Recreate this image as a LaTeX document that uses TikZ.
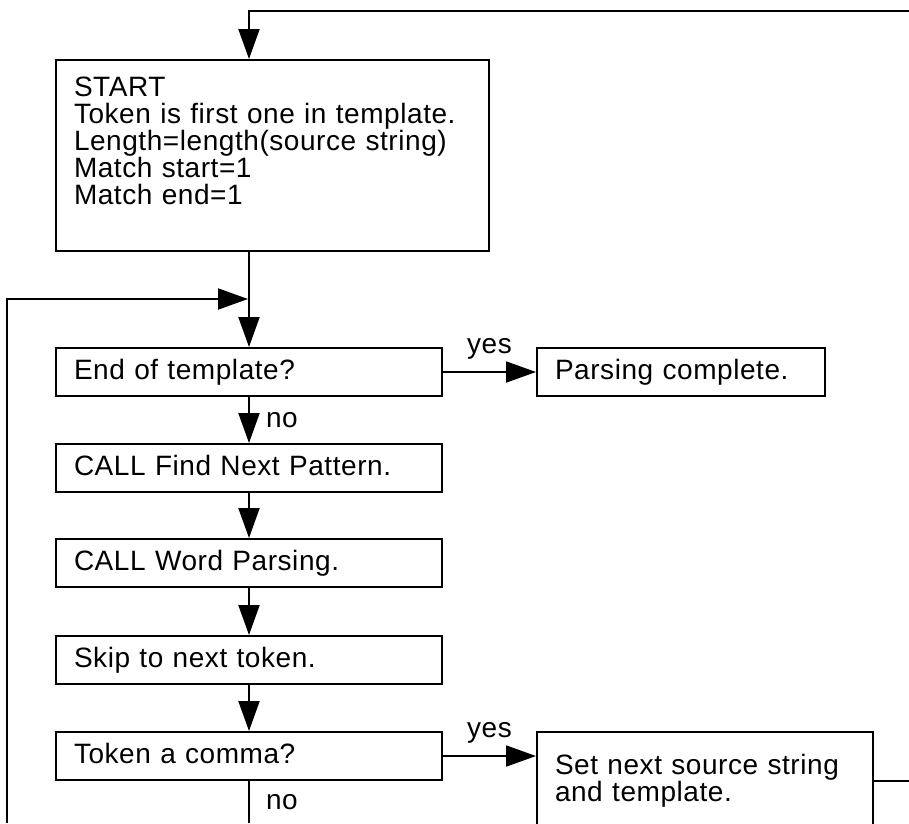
\documentclass[tikz,border=0pt]{standalone}
\usepackage{fontspec}
\setmainfont{Liberation Sans}[LetterSpace=2]
\usetikzlibrary{arrows.meta}

\begin{document}
\begin{tikzpicture}[x=1pt, y=-1pt,
% Node styles
 box/.style={draw, line width=2pt, anchor=north west, align=left,
 font=\fontsize{28pt}{27pt}\selectfont, inner xsep=18pt},
 onebox/.style={box, text width=350pt, minimum height=48pt,
 text height=20pt, text depth=6pt},
% Edge styles
 flow/.style={draw, line width=2pt, -{Triangle[length=30pt, width=21pt]}},
 wire/.style={draw, line width=2pt},
% Label styles
 tag/.style={font=\fontsize{28pt}{27pt}\selectfont, inner sep=3pt}
]
\useasboundingbox (0,0) rectangle (909,823);
\clip (0,0) rectangle (909,823);

\node[box, text width=397pt, inner ysep=17pt] (start) at (55,59)
 {START\\
 Token is first one in template.\\
 Length=length(source string)\\
 Match start=1\\
 Match end=1\rule[-29pt]{0pt}{0pt}};

\node[onebox] (endtpl) at (55,347) {End of template?};
\node[onebox, text width=252pt] (done) at (536,347) {Parsing complete.};
\node[onebox] (findnext) at (55,443) {CALL Find Next Pattern.};
\node[onebox] (wordpar) at (55,538) {CALL Word Parsing.};
\node[onebox] (skip) at (55,635) {Skip to next token.};
\node[onebox] (comma) at (55,731) {Token a comma?};
\node[box, text width=300pt, inner ysep=22pt] (setnext) at (536,731)
 {Set next source string\\
 and template.};

% loose ends at the border
\coordinate (outT) at (909,11);
\coordinate (outR) at (909,0);
\coordinate (outB) at (7,823);
\coordinate (join) at (248,299);

\draw[flow] (outT) -| (start.north -| endtpl.north);
\draw[flow] (start.south -| endtpl.north) -- (endtpl.north);
\draw[flow] (outB) |- (join);

\draw[flow] (endtpl) -- node[tag, midway, above=9pt] {yes} (done);
\draw[flow] (endtpl) -- node[tag, midway, right=13pt] {no} (findnext);
\draw[flow] (findnext) -- (wordpar);
\draw[flow] (wordpar) -- (skip);
\draw[flow] (skip) -- (comma);

\draw[flow] (comma.east) -- node[tag, midway, above=9pt] {yes} (comma.east -| setnext.west);
\draw[wire] (comma) -- node[tag, midway, right=13pt] {no} (comma.south |- outB);
\draw[wire] (setnext.east) -- (setnext.east -| outR);

\end{tikzpicture}
\end{document}
